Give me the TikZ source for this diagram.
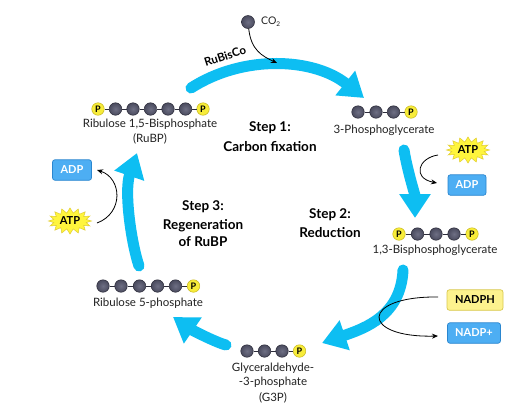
\documentclass[tikz,border=0pt]{standalone}
\usepackage{fontspec}
\setmainfont{Lato}
\usetikzlibrary{arrows.meta,shapes.symbols}
\definecolor{cyc}{HTML}{0DBEF2}
\definecolor{ballc}{HTML}{4A4B5E}
\definecolor{balll}{HTML}{6E6F84}
\definecolor{balld}{HTML}{2C2C3A}
\definecolor{pyel}{HTML}{F7EC3A}
\definecolor{pyeld}{HTML}{C8B820}
\definecolor{starf}{HTML}{FFF53C}
\definecolor{stard}{HTML}{E0CC30}
\definecolor{boxb}{HTML}{4DAEF3}
\definecolor{boxbd}{HTML}{2A86CF}
\definecolor{boxy}{HTML}{FDF28E}
\definecolor{boxyd}{HTML}{D9C84E}
\definecolor{txt}{HTML}{222222}
\tikzset{
  cball/.style={circle,minimum size=12.5pt,inner sep=0pt,inner color=balll,outer color=ballc,draw=balld,line width=0.5pt},
  pball/.style={circle,minimum size=12.5pt,inner sep=0pt,fill=pyel,draw=pyeld,line width=0.5pt,font=\fontsize{9}{9}\selectfont\bfseries,text=black},
  bond/.style={draw=balld,line width=0.9pt},
  lbl/.style={font=\fontsize{11.5}{12}\selectfont,text=txt,inner sep=0pt},
  steplbl/.style={font=\fontsize{13.5}{15}\selectfont\bfseries,text=black,inner sep=0pt},
  cycarrow/.style={draw=cyc,line width=11pt,line cap=round,-{Triangle[length=24pt,width=30pt]}},
  thinarrow/.style={draw=black,line width=0.8pt,-{Stealth[length=6pt,width=5pt]}},
  starlbl/.style={starburst,starburst points=16,starburst point height=5pt,random starburst=0,fill=starf,draw=stard,line width=0.5pt,minimum width=43pt,minimum height=26pt,inner sep=0pt,font=\fontsize{11}{11}\selectfont\bfseries},
  bluebox/.style={rectangle,rounded corners=2.5pt,fill=boxb,draw=boxbd,line width=0.7pt,text=white,font=\fontsize{11}{11}\selectfont\bfseries,minimum height=20.5pt,inner xsep=3pt},
  yelbox/.style={rectangle,rounded corners=2.5pt,fill=boxy,draw=boxyd,line width=0.7pt,text=black,font=\fontsize{11}{11}\selectfont\bfseries,minimum height=20.5pt,inner xsep=3pt}
}
\begin{document}
\begin{tikzpicture}[x=1pt,y=-1pt]
\useasboundingbox (0,0) rectangle (512,408);
\fill[white] (0,0) rectangle (512,408);

% cycle arrow coordinates
\coordinate (a1s) at (191,88);   \coordinate (a1e) at (364,98);
\coordinate (a2s) at (404,150);  \coordinate (a2e) at (415,218);
\coordinate (a3s) at (403,270);  \coordinate (a3e) at (322,343);
\coordinate (a4s) at (226,345);  \coordinate (a4e) at (173,317);
\coordinate (a5s) at (139,266);  \coordinate (a5e) at (137,153);

\draw[cycarrow] (a1s) .. controls (244,54) and (314,58) .. (a1e);
\draw[cycarrow] (a2s) .. controls (407,169) and (415,195) .. (a2e);
\draw[cycarrow] (a3s) .. controls (401,315) and (366,328) .. (a3e);
\draw[cycarrow] (a4s) .. controls (215,342) and (192,330) .. (a4e);
\draw[cycarrow] (a5s) .. controls (131,242) and (124,191) .. (a5e);

% RuBP
\node[pball] (rb0) at (98,109) {P};
\foreach \i/\x in {1/115.5,2/133,3/150.5,4/168,5/185.5} \node[cball] (rb\i) at (\x,109) {};
\node[pball] (rb6) at (203,109) {P};
\foreach \i [evaluate=\i as \j using int(\i+1)] in {0,...,5} \draw[bond] (rb\i) -- (rb\j);
\node[lbl] (rbl1) at (150,124) {Ribulose 1,5-Bisphosphate};
\node[lbl] (rbl2) at (150,139) {(RuBP)};

% 3-Phosphoglycerate
\foreach \i/\x in {0/358,1/376,2/393.5} \node[cball] (pg\i) at (\x,112) {};
\node[pball] (pg3) at (411,112) {P};
\foreach \i [evaluate=\i as \j using int(\i+1)] in {0,1,2} \draw[bond] (pg\i) -- (pg\j);
\node[lbl] (pgl) at (384,130) {3-Phosphoglycerate};

% 1,3-Bisphosphoglycerate
\node[pball] (bp0) at (399,234) {P};
\foreach \i/\x in {1/417.5,2/436,3/454} \node[cball] (bp\i) at (\x,234) {};
\node[pball] (bp4) at (472,234) {P};
\foreach \i [evaluate=\i as \j using int(\i+1)] in {0,...,3} \draw[bond] (bp\i) -- (bp\j);
\node[lbl] (bpl) at (435,250) {1,3-Bisphosphoglycerate};

% G3P
\foreach \i/\x in {0/247,1/264.5,2/282} \node[cball] (g\i) at (\x,351) {};
\node[pball] (g3) at (299.5,351) {P};
\foreach \i [evaluate=\i as \j using int(\i+1)] in {0,1,2} \draw[bond] (g\i) -- (g\j);
\node[lbl] (gl1) at (273,368) {Glyceraldehyde-};
\node[lbl] (gl2) at (273,382) {-3-phosphate};
\node[lbl] (gl3) at (273,398) {(G3P)};

% Ribulose 5-phosphate
\foreach \i/\x in {0/103,1/121,2/139.5,3/157.5,4/175.5} \node[cball] (r5\i) at (\x,286) {};
\node[pball] (r55) at (193.5,286) {P};
\foreach \i [evaluate=\i as \j using int(\i+1)] in {0,...,4} \draw[bond] (r5\i) -- (r5\j);
\node[lbl] (r5l) at (148,303) {Ribulose 5-phosphate};

% Steps
\node[steplbl] (s1a) at (270,128) {Step 1:};
\node[steplbl] (s1b) at (270,147) {Carbon fixation};
\node[steplbl] (s2a) at (330,215) {Step 2:};
\node[steplbl] (s2b) at (330,233) {Reduction};
\node[steplbl] (s3a) at (203,207) {Step 3:};
\node[steplbl] (s3b) at (203,226) {Regeneration};
\node[steplbl] (s3c) at (203,242) {of RuBP};

% CO2 and RuBisCo
\node[cball,minimum size=13pt] (co2) at (248,22) {};
\node[lbl,anchor=west,font=\fontsize{10.5}{11}\selectfont] (co2t) at (261,22) {CO\textsubscript{\fontsize{6.5}{7}\selectfont 2}};
\coordinate (co2e) at (277,63);
\draw[thinarrow] (co2) .. controls (251,50) and (262,56) .. (co2e);
\node[font=\fontsize{11.5}{12}\selectfont\bfseries,rotate=18,inner sep=0pt] (rub) at (225,56) {RuBisCo};

% ATP / ADP right
\node[starlbl] (atp1) at (468,150) {ATP};
\node[bluebox,minimum width=38pt] (adp1) at (467,185) {ADP};
\coordinate (c1s) at (438,155); \coordinate (c1e) at (437,183);
\draw[thinarrow] (c1s) .. controls (418,158) and (412,178) .. (c1e);

% ATP / ADP left
\node[starlbl] (atp2) at (70,221) {ATP};
\node[bluebox,minimum width=39pt] (adp2) at (72,170) {ADP};
\coordinate (c2s) at (97,223); \coordinate (c2e) at (97,170);
\draw[thinarrow] (c2s) .. controls (124,213) and (122,178) .. (c2e);

% NADPH / NADP+
\node[yelbox,minimum width=56pt] (nadph) at (475,300) {NADPH};
\node[bluebox,minimum width=53pt] (nadp) at (474,333) {NADP+};
\coordinate (c3s) at (438,297); \coordinate (c3e) at (438,336);
\draw[thinarrow] (c3s) .. controls (360,296) and (360,338) .. (c3e);
\end{tikzpicture}
\end{document}
